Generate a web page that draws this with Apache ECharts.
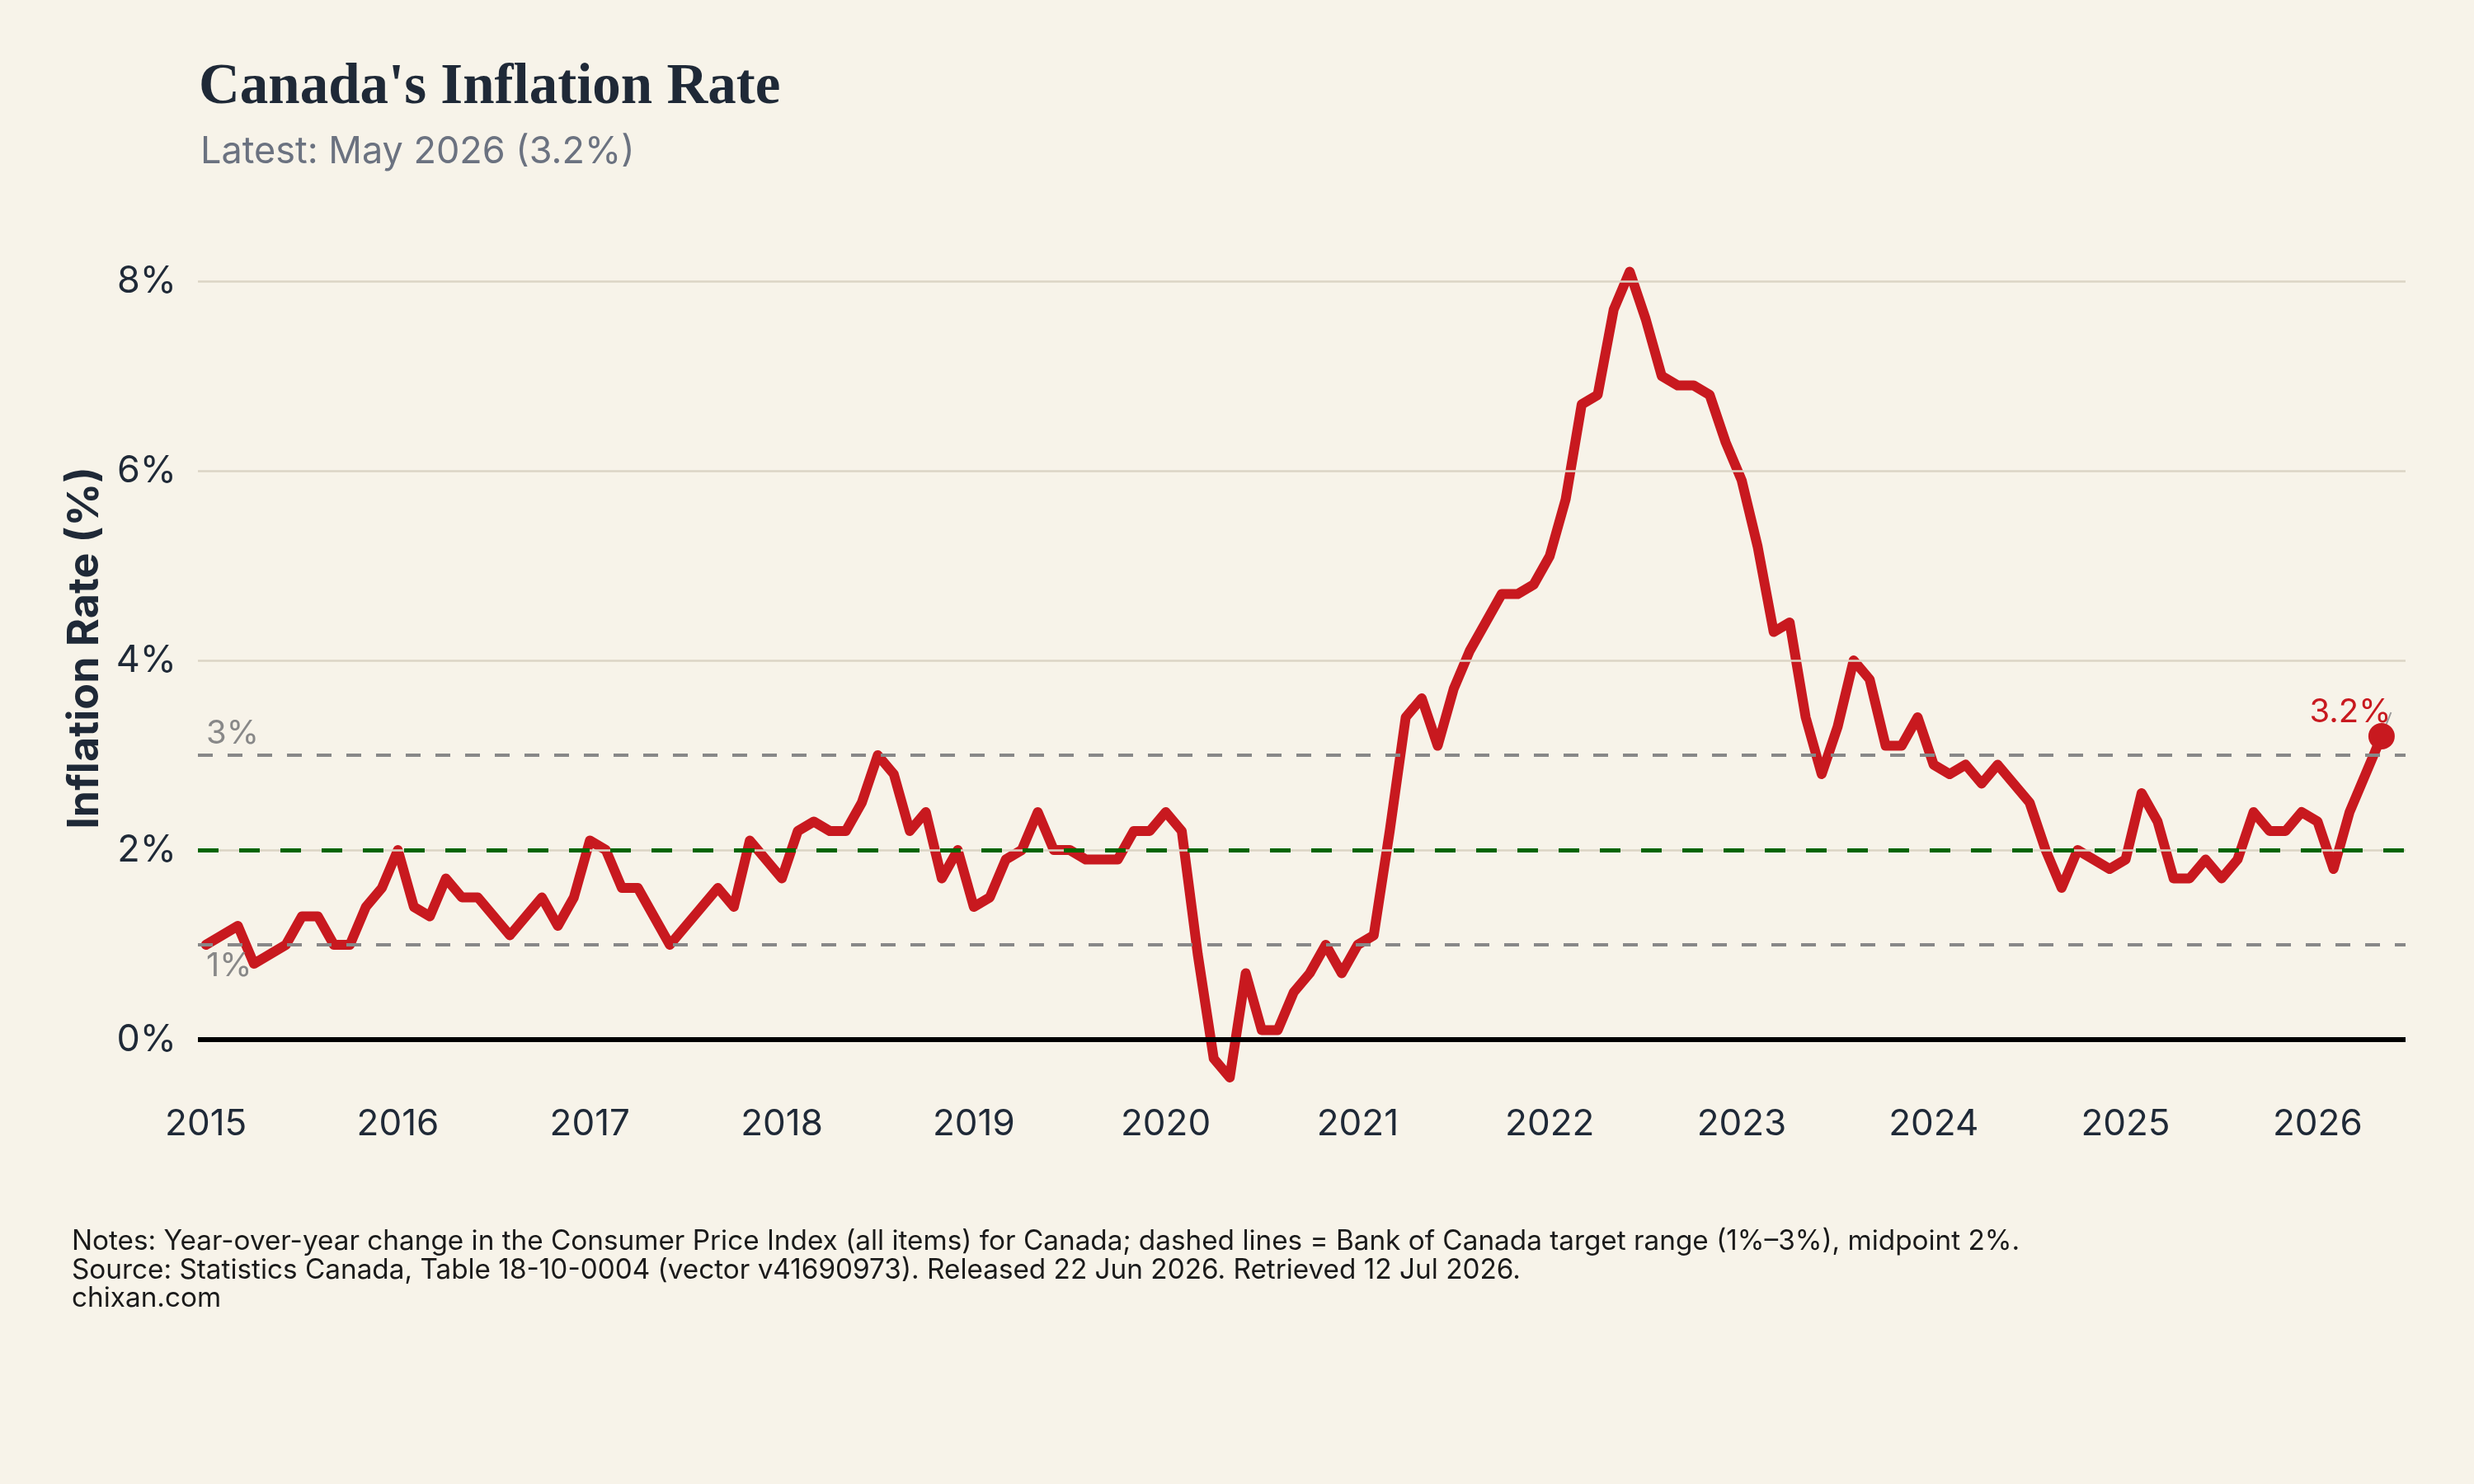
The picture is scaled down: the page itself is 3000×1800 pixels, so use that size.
<!DOCTYPE html>
<html>
<head>
<meta charset="utf-8">
<title>Canada's Inflation Rate</title>
<script src="https://cdn.jsdelivr.net/npm/echarts@6/dist/echarts.min.js"></script>
<style>
  html, body { margin: 0; padding: 0; background: #F7F3E9; }
  #chart { width: 3000px; height: 1800px; }
</style>
</head>
<body>
<div id="chart"></div>
<script>
// monthly year-over-year CPI change (%), Jan 2015 .. May 2026
const y2015 = [1.0, 1.1, 1.2, 0.8, 0.9, 1.0, 1.3, 1.3, 1.0, 1.0, 1.4, 1.6];
const y2016 = [2.0, 1.4, 1.3, 1.7, 1.5, 1.5, 1.3, 1.1, 1.3, 1.5, 1.2, 1.5];
const y2017 = [2.1, 2.0, 1.6, 1.6, 1.3, 1.0, 1.2, 1.4, 1.6, 1.4, 2.1, 1.9];
const y2018 = [1.7, 2.2, 2.3, 2.2, 2.2, 2.5, 3.0, 2.8, 2.2, 2.4, 1.7, 2.0];
const y2019 = [1.4, 1.5, 1.9, 2.0, 2.4, 2.0, 2.0, 1.9, 1.9, 1.9, 2.2, 2.2];
const y2020 = [2.4, 2.2, 0.9, -0.2, -0.4, 0.7, 0.1, 0.1, 0.5, 0.7, 1.0, 0.7];
const y2021 = [1.0, 1.1, 2.2, 3.4, 3.6, 3.1, 3.7, 4.1, 4.4, 4.7, 4.7, 4.8];
const y2022 = [5.1, 5.7, 6.7, 6.8, 7.7, 8.1, 7.6, 7.0, 6.9, 6.9, 6.8, 6.3];
const y2023 = [5.9, 5.2, 4.3, 4.4, 3.4, 2.8, 3.3, 4.0, 3.8, 3.1, 3.1, 3.4];
const y2024 = [2.9, 2.8, 2.9, 2.7, 2.9, 2.7, 2.5, 2.0, 1.6, 2.0, 1.9, 1.8];
const y2025 = [1.9, 2.6, 2.3, 1.7, 1.7, 1.9, 1.7, 1.9, 2.4, 2.2, 2.2, 2.4];
const y2026 = [2.3, 1.8, 2.4, 2.8, 3.2];

const yearLabels = ["2015", "2016", "2017", "2018", "2019", "2020",
                    "2021", "2022", "2023", "2024", "2025", "2026"];
const yTicks = [0, 2, 4, 6, 8];
const targetLow = 1, targetMid = 2, targetHigh = 3;

const notes = [
    "Notes: Year-over-year change in the Consumer Price Index (all items) for Canada; dashed lines = Bank of Canada target range (1%\u20133%), midpoint 2%.",
    "Source: Statistics Canada, Table 18-10-0004 (vector v41690973). Released 22 Jun 2026. Retrieved 12 Jul 2026.",
    "chixan.com"
];

const values = [].concat(y2015, y2016, y2017, y2018, y2019, y2020,
                         y2021, y2022, y2023, y2024, y2025, y2026);
// x = month index from Jan 2015
const points = values.map((v, i) => [i, v]);
const last = points[points.length - 1];

const sans = "Inter";
const ink = "#1F2937";
const red = "#C8191F";

let chart = echarts.init(document.getElementById("chart"));

let gridLines = yTicks.filter(v => v !== 0).map(v => ({
    yAxis: v,
    lineStyle: { color: "#DBD4C5", width: 2.5, type: "solid" },
    label: { show: false }
}));

let refLines = gridLines.concat([
    {
        yAxis: targetHigh,
        lineStyle: { color: "#888888", width: 4, type: [18, 18] },
        label: {
            show: true, formatter: targetHigh + "%", position: "insideStartTop",
            distance: [10, 6], color: "#888888", fontFamily: sans, fontSize: 40
        }
    },
    {
        yAxis: targetLow,
        lineStyle: { color: "#888888", width: 4, type: [18, 18] },
        label: {
            show: true, formatter: targetLow + "%", position: "insideStartBottom",
            distance: [10, 6], color: "#888888", fontFamily: sans, fontSize: 40
        }
    },
    {
        yAxis: targetMid,
        lineStyle: { color: "#006400", width: 5, type: [25, 25] },
        label: { show: false }
    },
    {
        yAxis: 0,
        lineStyle: { color: "#000000", width: 6, type: "solid" },
        label: { show: false }
    }
]);

let option = {
    backgroundColor: "#F7F3E9",
    animation: false,
    title: [
        {
            text: "Canada's Inflation Rate",
            left: 236, top: 68,
            textStyle: { fontFamily: "Liberation Serif", fontWeight: "bold", fontSize: 69, color: ink }
        },
        {
            text: "Latest: May 2026 (" + last[1].toFixed(1) + "%)",
            left: 238, top: 157,
            textStyle: { fontFamily: sans, fontWeight: "normal", fontSize: 45, color: "#6B7280" }
        },
        {
            text: notes.join("\n"),
            left: 82, top: 1484,
            textStyle: { fontFamily: sans, fontWeight: "normal", fontSize: 33.3, lineHeight: 34.5, color: "#1A1A1A" }
        }
    ],
    grid: { left: 240, right: 83, top: 272, bottom: 470, outerBoundsMode: "none" },
    xAxis: {
        type: "value",
        min: -0.5,
        max: 137.5,
        axisLine: { show: false },
        axisTick: { show: false },
        splitLine: { show: false },
        axisLabel: {
            customValues: yearLabels.map((y, k) => k * 12),
            formatter: v => yearLabels[Math.round(v / 12)],
            fontFamily: sans, fontSize: 44, color: ink, margin: 12
        }
    },
    yAxis: {
        type: "value",
        min: -0.6,
        max: 8.6,
        name: "Inflation Rate (%)",
        nameLocation: "middle",
        nameGap: 106,
        nameTextStyle: {
            fontFamily: sans, fontWeight: "bold", fontSize: 52, color: ink,
            padding: [0, 0, 0, 30]
        },
        axisLine: { show: false },
        axisTick: { show: false },
        splitLine: { show: false },
        axisLabel: {
            customValues: yTicks,
            formatter: v => v + "%",
            fontFamily: sans, fontSize: 45, color: ink, margin: 26
        }
    },
    series: [
        {
            // reference lines only
            type: "line",
            data: points,
            symbol: "none",
            silent: true,
            lineStyle: { opacity: 0 },
            z: 1,
            markLine: {
                silent: true,
                symbol: ["none", "none"],
                data: refLines
            }
        },
        {
            name: "CPI",
            type: "line",
            data: points,
            symbol: "none",
            z: 3,
            lineStyle: { color: red, width: 12, cap: "round", join: "round" }
        },
        {
            type: "scatter",
            data: [last],
            symbol: "circle",
            symbolSize: 32,
            z: 4,
            itemStyle: { color: red, opacity: 1 },
            label: {
                show: true,
                position: "top",
                formatter: p => p.value[1].toFixed(1) + "%",
                fontFamily: sans, fontSize: 40, color: red
            },
            labelLayout: { dx: -38, dy: 12 },
            labelLine: { show: true, lineStyle: { color: "#9A9A9A", width: 2 } }
        }
    ]
};

chart.setOption(option);
</script>
</body>
</html>
